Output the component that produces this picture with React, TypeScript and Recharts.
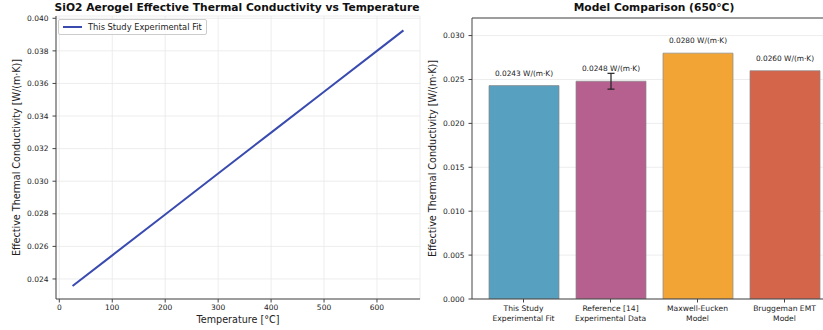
import React from "react";
import {
  LineChart,
  Line,
  BarChart,
  Bar,
  Cell,
  ErrorBar,
  LabelList,
  XAxis,
  YAxis,
  CartesianGrid,
  Legend,
  ReferenceLine,
} from "recharts";

// left panel: fitted conductivity vs temperature
const temperatures = [25, 100, 200, 300, 400, 500, 600, 650];
const conductivity = [0.02357, 0.02545, 0.02796, 0.03047, 0.03298, 0.03549, 0.038, 0.03926];
const tempTicks = [0, 100, 200, 300, 400, 500, 600];
const kTicks = [0.024, 0.026, 0.028, 0.03, 0.032, 0.034, 0.036, 0.038, 0.04];

// right panel: model comparison at 650°C
const models = [
  "This Study\nExperimental Fit",
  "Reference [14]\nExperimental Data",
  "Maxwell-Eucken\nModel",
  "Bruggeman EMT\nModel",
];
const modelValues = [0.0243, 0.0248, 0.028, 0.026];
const modelErrors = [0, 0.0009, 0, 0];
const modelColors = ["#58a0bf", "#b5608e", "#f2a535", "#d5654a"];
const barTicks = [0, 0.005, 0.01, 0.015, 0.02, 0.025, 0.03];
const barTop = 0.032;

const FONT = "'DejaVu Sans', sans-serif";
const AXIS = "#444";
const TEXT = "#222";
const YLABEL = "Effective Thermal Conductivity [W/(m·K)]";

const lineData = temperatures.map((t, i) => ({ t, k: conductivity[i] }));
const barData = models.map((name, i) => ({
  name,
  value: modelValues[i],
  err: modelErrors[i],
}));

const tickStyle = { fontSize: 7.5, fill: TEXT, fontFamily: FONT };

const YLabel = ({ viewBox, dx }: any) => {
  const cx = viewBox.x + dx;
  const cy = viewBox.y + viewBox.height / 2;
  return (
    <text
      x={cx}
      y={cy}
      transform={`rotate(-90, ${cx}, ${cy})`}
      textAnchor="middle"
      dominantBaseline="central"
      fontSize={9.6}
      fill={TEXT}
      fontFamily={FONT}
    >
      {YLABEL}
    </text>
  );
};

const XLabel = ({ viewBox }: any) => (
  <text
    x={viewBox.x + viewBox.width / 2}
    y={viewBox.y + 24}
    textAnchor="middle"
    fontSize={9.6}
    fill={TEXT}
    fontFamily={FONT}
  >
    Temperature [°C]
  </text>
);

const LegendBox = () => (
  <div
    style={{
      display: "flex",
      alignItems: "center",
      border: "1px solid #ccc",
      borderRadius: 2,
      background: "rgba(255,255,255,0.8)",
      padding: "2px 4px",
      fontFamily: FONT,
      fontSize: 8.3,
      color: TEXT,
    }}
  >
    <span
      style={{
        display: "inline-block",
        width: 19,
        height: 2,
        background: "#3a4bb0",
        marginRight: 6,
      }}
    />
    This Study Experimental Fit
  </div>
);

const ModelTick = ({ x, y, payload }: any) => {
  const lines = String(payload.value).split("\n");
  return (
    <text x={x} y={y} textAnchor="middle" fontSize={7.6} fill={TEXT} fontFamily={FONT}>
      {lines.map((l, i) => (
        <tspan key={i} x={x} dy={i === 0 ? 6 : 10}>
          {l}
        </tspan>
      ))}
    </text>
  );
};

const ValueLabel = ({ x, y, width, value }: any) => (
  <text
    x={x + width / 2}
    y={y - 10}
    textAnchor="middle"
    fontSize={7.4}
    fill={TEXT}
    fontFamily={FONT}
  >
    {`${Number(value).toFixed(4)} W/(m·K)`}
  </text>
);

const titleStyle = (center: number): React.CSSProperties => ({
  position: "absolute",
  top: 1,
  left: center - 250,
  width: 500,
  textAlign: "center",
  fontFamily: FONT,
  fontWeight: "bold",
  fontSize: 10.7,
  color: "#111",
});

export default function App() {
  return (
    <div
      style={{
        position: "absolute",
        left: 0,
        top: 0,
        width: 823,
        height: 330,
        overflow: "hidden",
        background: "#fff",
      }}
    >
      <div style={titleStyle(237)}>SiO2 Aerogel Effective Thermal Conductivity vs Temperature</div>
      <div style={titleStyle(654)}>Model Comparison (650°C)</div>

      <div style={{ position: "absolute", left: 0, top: 0 }}>
        <LineChart
          width={430}
          height={330}
          data={lineData}
          margin={{ top: 16, right: 10, left: 0, bottom: 0 }}
        >
          <CartesianGrid stroke="#e8e8e8" strokeWidth={0.8} />
          <XAxis
            dataKey="t"
            type="number"
            domain={[-6.25, 681.25]}
            ticks={tempTicks}
            height={31}
            tick={tickStyle}
            tickSize={3.5}
            tickMargin={2}
            stroke={AXIS}
            allowDataOverflow
            label={<XLabel />}
          />
          <YAxis
            type="number"
            domain={[0.02277, 0.04014]}
            ticks={kTicks}
            width={56}
            tick={tickStyle}
            tickSize={3.5}
            tickMargin={4}
            stroke={AXIS}
            tickFormatter={(v: number) => v.toFixed(3)}
            allowDataOverflow
            label={<YLabel dx={16} />}
          />
          <XAxis xAxisId="top" orientation="top" height={0} tick={false} tickLine={false} stroke={AXIS} />
          <YAxis yAxisId="right" orientation="right" width={0} tick={false} tickLine={false} stroke={AXIS} />
          <Legend
            layout="horizontal"
            verticalAlign="middle"
            align="center"
            content={<LegendBox />}
            wrapperStyle={{ position: "absolute", left: 58, top: 19, width: "auto" }}
          />
          <Line
            type="linear"
            dataKey="k"
            stroke="#3a4bb0"
            strokeWidth={2}
            dot={false}
            isAnimationActive={false}
          />
        </LineChart>
      </div>

      <div style={{ position: "absolute", left: 420, top: 0 }}>
        <BarChart
          width={420}
          height={330}
          data={barData}
          margin={{ top: 18, right: 4, left: 0, bottom: 0 }}
        >
          <CartesianGrid stroke="#e8e8e8" strokeWidth={0.8} vertical={false} />
          <XAxis
            dataKey="name"
            height={31}
            padding={{ left: 8, right: 8 }}
            tick={<ModelTick />}
            tickSize={3.5}
            tickMargin={2}
            stroke={AXIS}
            interval={0}
          />
          <YAxis
            type="number"
            domain={[0, barTop]}
            ticks={barTicks}
            width={52}
            tick={tickStyle}
            tickSize={3.5}
            tickMargin={4}
            stroke={AXIS}
            tickFormatter={(v: number) => v.toFixed(3)}
            allowDataOverflow
            label={<YLabel dx={12} />}
          />
          <ReferenceLine y={barTop} stroke={AXIS} strokeWidth={1} ifOverflow="visible" />
          <Bar dataKey="value" barSize={70} stroke="#888" strokeWidth={0.7} isAnimationActive={false}>
            {barData.map((d, i) => (
              <Cell key={d.name} fill={modelColors[i]} />
            ))}
            <ErrorBar dataKey="err" width={3.5} stroke="#222" strokeWidth={1.2} direction="y" />
            <LabelList dataKey="value" content={<ValueLabel />} />
          </Bar>
        </BarChart>
      </div>
    </div>
  );
}
